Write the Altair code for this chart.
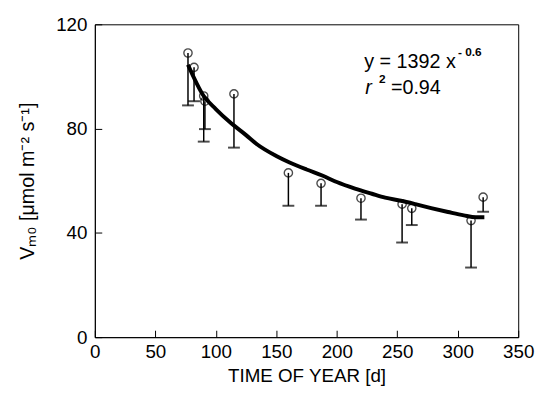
import altair as alt
import pandas as pd

# measured points (day of year, Vm0) and lower error bar ends
days = [77, 82, 90, 91, 115, 160, 187, 220, 254, 262, 311, 321]
vm0 = [109, 103.5, 92.5, 90.5, 93.3, 63, 59, 53.3, 51, 49.4, 44.7, 53.7]
lower = [88.9, 90.5, 75, 79.8, 72.7, 50.4, 50.4, 45.1, 36.3, 43, 26.7, 48.1]

# fitted curve
fit_days = [77, 90, 100, 112, 125, 134, 150, 161, 175, 188, 200, 215, 229, 240,
            253, 265, 278, 292, 305, 315, 322]
fit_vm0 = [104.5, 92.5, 87.5, 82.3, 77.5, 74, 69.5, 67, 64.3, 62, 59.5, 57, 55,
           53.5, 52.3, 51, 49.5, 48, 46.7, 46, 46]

x_ticks = [0, 50, 100, 150, 200, 250, 300, 350]
y_ticks = [0, 40, 80, 120]

pts = pd.DataFrame({"day": days, "vm0": vm0, "lower": lower})
fit = pd.DataFrame({"day": fit_days, "vm0": fit_vm0})

FONT = "Liberation Sans"
W, H = 429, 317

xscale = alt.Scale(domain=[0, 350], nice=False, zero=False)
yscale = alt.Scale(domain=[0, 120], nice=False)

xaxis = alt.Axis(values=x_ticks, title="TIME OF YEAR [d]", grid=False,
                 tickSize={"expr": "-7"}, labelPadding=13, labelFlush=False,
                 labelOverlap=False, titleY=30, titleBaseline="top",
                 titleFontSize=19)
yaxis = alt.Axis(values=y_ticks, title="Vₘ₀ [μmol m⁻² s⁻¹]", grid=False,
                 tickSize={"expr": "-7"}, labelPadding=15, labelFlush=False,
                 labelOverlap=False, titleX=-58, titleY=H / 2,
                 titleFontSize=20)

base = alt.Chart(pts)

stems = base.mark_rule(color="black", strokeWidth=1.5).encode(
    x=alt.X("day:Q", scale=xscale, axis=xaxis),
    y=alt.Y("vm0:Q", scale=yscale, axis=yaxis),
    y2="lower:Q",
)
caps = base.mark_tick(color="black", orient="horizontal", size=12,
                      thickness=2).encode(
    x=alt.X("day:Q", scale=xscale),
    y=alt.Y("lower:Q", scale=yscale),
)
circles = base.mark_point(shape="circle", filled=False, color="black",
                          size=70, strokeWidth=1.4).encode(
    x=alt.X("day:Q", scale=xscale),
    y=alt.Y("vm0:Q", scale=yscale),
)
curve = alt.Chart(fit).mark_line(color="black", strokeWidth=4,
                                 interpolate="monotone").encode(
    x=alt.X("day:Q", scale=xscale),
    y=alt.Y("vm0:Q", scale=yscale),
)

one = pd.DataFrame({"a": [0]})


def label(txt, px, py, size=20, weight="normal", style="normal"):
    return alt.Chart(one).mark_text(
        text=txt, align="left", baseline="alphabetic", font=FONT,
        fontSize=size, fontWeight=weight, fontStyle=style, color="black",
    ).encode(x=alt.value(px), y=alt.value(py))


ann = (label("y = 1392 x", 273, 44)
       + label("- 0.6", 368, 32, size=12, weight="bold")
       + label("r", 274, 71, style="italic")
       + label("2", 288, 59, size=12, weight="bold")
       + label("=0.94", 300, 71))

chart = (curve + stems + caps + circles + ann).properties(
    width=W, height=H,
    autosize=alt.AutoSizeParams(type="none"),
    padding={"left": 88, "top": 14, "right": 17, "bottom": 49},
).configure_view(
    stroke="black", strokeWidth=1
).configure_axis(
    domainColor="black", tickColor="black", labelColor="black",
    titleColor="black", labelFont=FONT, titleFont=FONT, labelFontSize=19,
    titleFontWeight="normal", domainWidth=1, tickWidth=1,
)

chart.save("out.html", embed_options={"renderer": "svg", "actions": False})
